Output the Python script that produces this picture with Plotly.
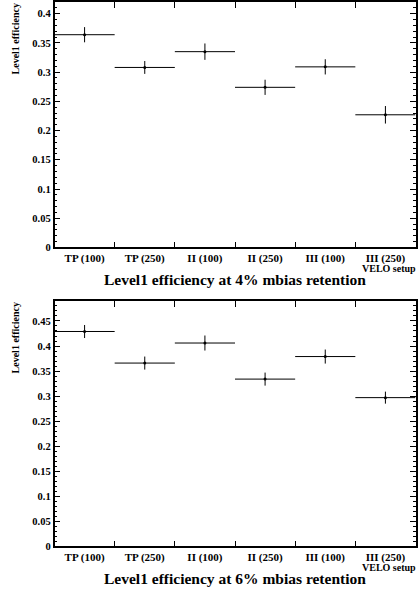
import plotly.graph_objects as go

categories = ["TP (100)", "TP (250)", "II (100)", "II (250)", "III (100)", "III (250)"]
eff_4 = [0.364, 0.308, 0.335, 0.274, 0.309, 0.227]
err_4 = [0.013, 0.011, 0.014, 0.013, 0.013, 0.015]
eff_6 = [0.429, 0.366, 0.406, 0.334, 0.379, 0.297]
err_6 = [0.013, 0.013, 0.015, 0.013, 0.014, 0.012]
titles = ["Level1 efficiency at 4% mbias retention", "Level1 efficiency at 6% mbias retention"]
yranges = [[0, 0.42], [0, 0.49]]

FONT = "Liberation Serif"
W, H = 420, 596
x0, x1 = 54.5, 415.5
panels = [(2, 250), (304, 552)]  # top/bottom pixel of each plot area

fig = go.Figure()
centers = [i + 0.5 for i in range(len(categories))]
half = [0.5] * len(categories)

for k, (vals, errs) in enumerate([(eff_4, err_4), (eff_6, err_6)]):
    xa = "x" if k == 0 else "x2"
    ya = "y" if k == 0 else "y2"
    fig.add_trace(go.Scatter(
        x=centers, y=vals, mode="markers", xaxis=xa, yaxis=ya,
        marker=dict(color="black", size=3),
        error_y=dict(type="data", array=errs, color="black", thickness=1, width=0),
        error_x=dict(type="data", array=half, color="black", thickness=1, width=0),
        showlegend=False, hoverinfo="skip"))

layout = dict(width=W, height=H, margin=dict(l=0, r=0, t=0, b=0),
              paper_bgcolor="white", plot_bgcolor="white",
              font=dict(family=FONT, color="black"))

annotations = []
for k, (top, bot) in enumerate(panels):
    sfx = "" if k == 0 else "2"
    dom_y = [1 - bot / H, 1 - top / H]
    layout["xaxis" + sfx] = dict(
        domain=[x0 / W, x1 / W], range=[0, 6], anchor="y" + sfx,
        tickmode="array", tickvals=centers, ticktext=categories,
        ticks="", showgrid=False, zeroline=False,
        showline=True, linecolor="black", linewidth=1.5, mirror="ticks",
        tickfont=dict(family=FONT, size=11, color="black", weight="bold"),
        minor=dict(tickmode="array", tickvals=[1, 2, 3, 4, 5], ticks="inside",
                   ticklen=6, tickcolor="black", tickwidth=1, showgrid=False))
    layout["yaxis" + sfx] = dict(
        domain=dom_y, range=yranges[k], anchor="x" + sfx,
        dtick=0.05, tick0=0, ticks="inside", ticklen=6, tickcolor="black", tickwidth=1,
        showgrid=False, zeroline=False,
        showline=True, linecolor="black", linewidth=1.5, mirror="ticks",
        tickfont=dict(family=FONT, size=10.5, color="black", weight="bold"),
        minor=dict(dtick=0.01, tick0=0, ticks="inside", ticklen=3,
                   tickcolor="black", tickwidth=1, showgrid=False))
    # y title
    annotations.append(dict(
        text="Level1 efficiency", textangle=-90, xref="paper", yref="paper",
        x=15 / W, y=1 - top / H, xanchor="center", yanchor="top",
        showarrow=False, font=dict(family=FONT, size=10, weight="bold")))
    # VELO setup
    annotations.append(dict(
        text="VELO setup", xref="paper", yref="paper",
        x=418 / W, y=1 - (bot + 21) / H, xanchor="right", yanchor="middle",
        showarrow=False, font=dict(family=FONT, size=10, weight="bold")))
    # title
    annotations.append(dict(
        text=titles[k], xref="paper", yref="paper",
        x=235 / W, y=1 - (bot + 32) / H, xanchor="center", yanchor="middle",
        showarrow=False, font=dict(family=FONT, size=15.5, weight="bold")))

layout["annotations"] = annotations
fig.update_layout(**layout)
fig.write_html("out.html")
